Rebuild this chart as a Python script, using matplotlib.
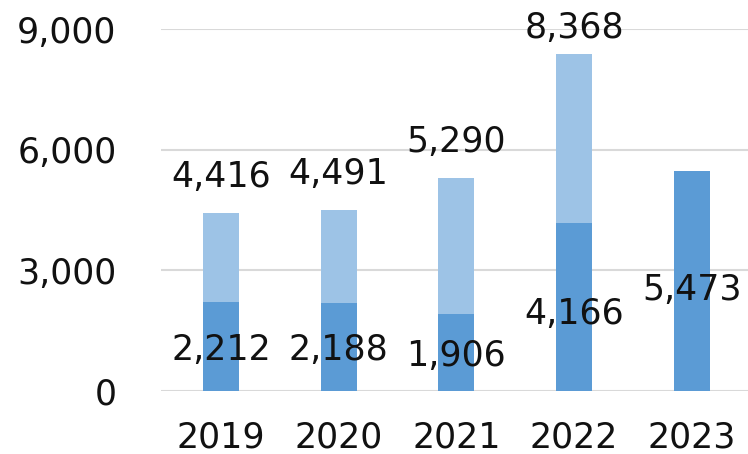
import matplotlib.pyplot as plt
import numpy as np

# Data
years = ['2019', '2020', '2021', '2022', '2023']
base_values = [2212, 2188, 1906, 4166, 5473]
total_values = [4416, 4491, 5290, 8368, None]
y_ticks = [0, 3000, 6000, 9000]

dark_blue = '#5B9BD5'
light_blue = '#9DC3E6'

fig = plt.figure(figsize=(7.48, 4.54), dpi=100)
ax = fig.add_axes([0.215, 0.139, 0.785, 0.797])

x = np.arange(len(years))
bar_w = 0.306

# bottom (dark) part
ax.bar(x, base_values, width=bar_w, color=dark_blue, zorder=3)

# upper (light) part up to the total
upper = [t - b if t is not None else 0 for t, b in zip(total_values, base_values)]
ax.bar(x, upper, width=bar_w, bottom=base_values, color=light_blue, zorder=3)

ax.set_xlim(-0.51, 4.476)
ax.set_ylim(0, 9000)
ax.set_yticks(y_ticks)
ax.set_yticklabels([f'{v:,}' for v in y_ticks])
ax.set_xticks(x)
ax.set_xticklabels(years)

ax.grid(axis='y', color='#D9D9D9', linewidth=1.5, zorder=0)
for s in ax.spines.values():
    s.set_visible(False)
ax.tick_params(axis='both', length=0, labelsize=25, colors='#111111')
ax.tick_params(axis='y', pad=32)
ax.tick_params(axis='x', pad=21)

# value labels
for i, b in enumerate(base_values):
    ax.text(x[i], b * 0.46, f'{b:,}', ha='center', va='center', fontsize=25,
            color='#111111', zorder=4, clip_on=False)
for i, t in enumerate(total_values):
    if t is None:
        continue
    ax.text(x[i], min(t + 900, 9030), f'{t:,}', ha='center', va='center',
            fontsize=25, color='#111111', zorder=4, clip_on=False)

plt.savefig('out.png', dpi=100)
